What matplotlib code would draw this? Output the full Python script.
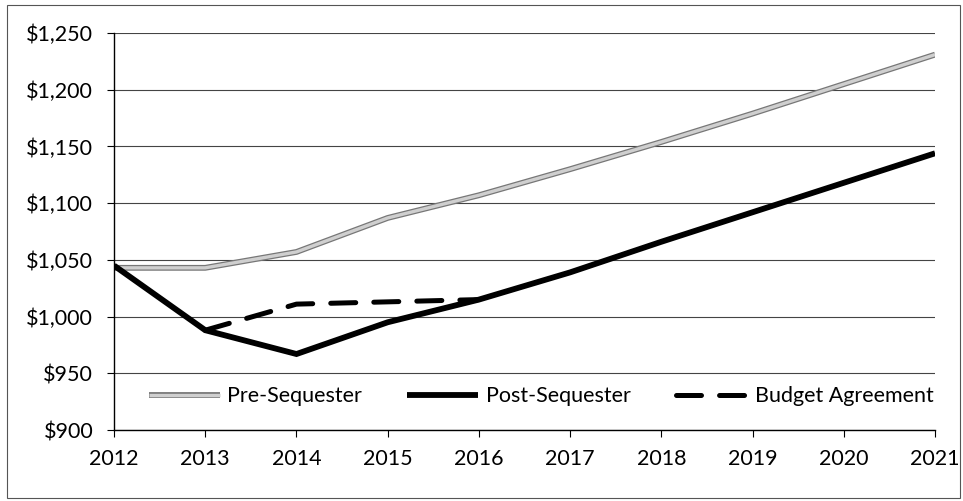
import matplotlib
matplotlib.use("Agg")
import matplotlib.pyplot as plt
import matplotlib.patheffects as pe
from matplotlib.patches import Rectangle

years = [2012, 2013, 2014, 2015, 2016, 2017, 2018, 2019, 2020, 2021]
pre_sequester = [1043, 1043, 1057, 1087, 1107, 1130, 1154, 1179, 1205, 1231]
post_sequester = [1045, 988, 967, 995, 1015, 1039, 1066, 1092, 1118, 1144]
budget_years = [2013, 2014, 2015, 2016]
budget_agreement = [988, 1011, 1013, 1015]
y_ticks = [900, 950, 1000, 1050, 1100, 1150, 1200, 1250]

plt.rcParams['font.family'] = ['Lato', 'DejaVu Sans']
plt.rcParams['lines.scale_dashes'] = False

fig = plt.figure(figsize=(9.63, 5.01), dpi=100)
ax = fig.add_axes([0.1184, 0.1417, 0.8526, 0.7923])

fig.patches.append(Rectangle((0.007, 0.006), 0.99, 0.985, transform=fig.transFigure,
                             fill=False, edgecolor='#555555', linewidth=0.8))

ax.plot(years, pre_sequester, color='#cfcfcf', linewidth=2.4, label='Pre-Sequester',
        solid_capstyle='butt',
        path_effects=[pe.Stroke(linewidth=4.2, foreground='#777777'), pe.Normal()])
ax.plot(years, post_sequester, color='black', linewidth=4.2, label='Post-Sequester',
        solid_capstyle='butt', solid_joinstyle='miter')
ax.plot(budget_years, budget_agreement, color='black', linewidth=3.6,
        linestyle=(0, (18, 13)), dash_capstyle='round', label='Budget Agreement')

ax.set_xlim(2012, 2021)
ax.set_ylim(900, 1250)
ax.set_xticks(years)
ax.set_xticklabels([str(y) for y in years])
ax.set_yticks(y_ticks)
ax.set_yticklabels([f"${v:,}" for v in y_ticks])

ax.grid(axis='y', color='#444444', linewidth=0.8)
ax.set_axisbelow(True)
for s in ['top', 'right']:
    ax.spines[s].set_visible(False)
ax.spines['left'].set_color('black')
ax.spines['bottom'].set_color('black')
ax.spines['left'].set_linewidth(1.0)
ax.spines['bottom'].set_linewidth(1.0)
ax.tick_params(axis='both', labelsize=15.5, colors='black', length=5, width=0.8)
ax.tick_params(axis='y', pad=10)
ax.tick_params(axis='x', pad=9)

leg = ax.legend(loc='center', bbox_to_anchor=(0.52, 0.085), ncol=3, frameon=False,
                fontsize=15.5, handlelength=3.3, columnspacing=2.1, handletextpad=0.35)

fig.savefig('out.png', dpi=100)
